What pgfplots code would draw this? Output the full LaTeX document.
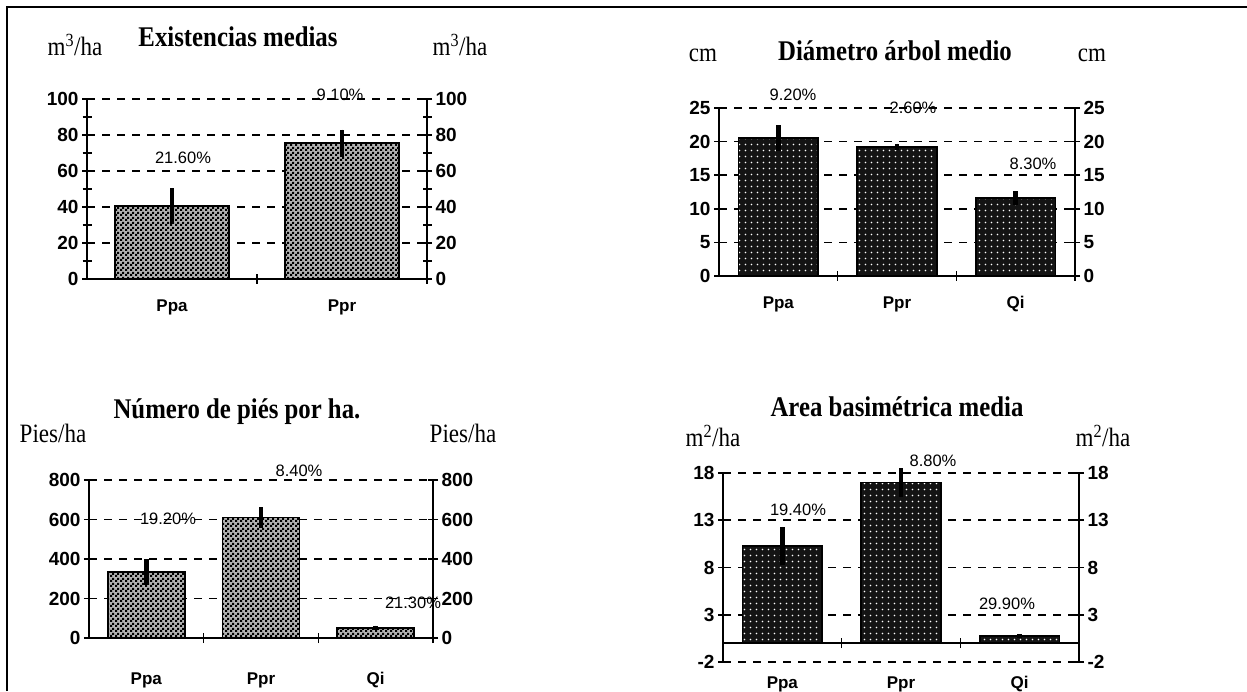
\documentclass[border=0pt]{standalone}
\usepackage{fontspec}
\setmainfont{Liberation Serif}
\newfontfamily\condserif[FakeStretch=0.87]{Liberation Serif}
\newfontfamily\arialf{Liberation Sans}
\usepackage{pgfplots}
\pgfplotsset{compat=1.18}
\usetikzlibrary{patterns}

% fine black/white checkerboard and white dots on black
\pgfdeclarepatternformonly{checker}{\pgfpointorigin}{\pgfqpoint{5pt}{5pt}}{\pgfqpoint{5pt}{5pt}}{%
  \pgfpathrectangle{\pgfpointorigin}{\pgfqpoint{2.5pt}{2.5pt}}%
  \pgfpathrectangle{\pgfqpoint{2.5pt}{2.5pt}}{\pgfqpoint{2.5pt}{2.5pt}}%
  \pgfusepath{fill}}
\pgfdeclarepatternformonly{wdots}{\pgfpointorigin}{\pgfqpoint{5.5pt}{5.5pt}}{\pgfqpoint{5.5pt}{5.5pt}}{%
  \pgfpathcircle{\pgfqpoint{2.75pt}{2.75pt}}{0.9pt}%
  \pgfusepath{fill}}

\newcommand{\ttl}{\condserif\bfseries\fontsize{28.5}{30}\selectfont}
\newcommand{\unt}{\condserif\fontsize{26.5}{28}\selectfont}
\newcommand{\pct}{\arialf\fontsize{16.5}{18}\selectfont}
\newcommand{\tck}{\arialf\bfseries\fontsize{19}{21}\selectfont}
\newcommand{\cat}{\arialf\bfseries\fontsize{17}{19}\selectfont}

\pgfplotsset{
  panel/.style={
    scale only axis, anchor=south west, clip=false,
    axis y line*=left, axis x line*=middle,
    tick align=center,
    axis line style={line width=1.8pt, black},
    major tick style={line width=1.6pt, black},
    minor tick style={line width=1.4pt, black},
    major tick length=10pt, minor tick length=9pt,
    ymajorgrids,
    major grid style={line width=1.6pt, black, dash pattern=on 8pt off 7pt},
    xticklabels={},
    tick label style={font=\tck},
    extra x tick style={major tick length=0pt, grid=none,
      tick label style={font=\cat, yshift=-17pt}},
  },
  rpanel/.style={
    scale only axis, anchor=south west,
    axis y line*=right, axis x line=none,
    tick align=center,
    axis line style={line width=1.8pt, black},
    major tick style={line width=1.6pt, black},
    minor tick style={line width=1.4pt, black},
    major tick length=10pt, minor tick length=9pt,
    tick label style={font=\tck},
  },
  errs/.style={error bars/.cd, y dir=both, y explicit, error mark=none,
    error bar style={line width=4.5pt, black}},
  hatchbar/.style={ybar, bar width=0.67, draw=black, line width=1.8pt,
    fill=black!30, postaction={pattern=checker}},
  dotbar/.style={ybar, bar width=0.67, draw=black, line width=1.8pt,
    fill=black!92, postaction={pattern=wdots, pattern color=white}},
}

\begin{document}
\begin{tikzpicture}
\path[use as bounding box] (0pt,0pt) rectangle (1247pt,691pt);
\draw[line width=2pt] (7pt,0pt) -- (7pt,684pt) -- (1247pt,684pt);

% ---------- Existencias medias ----------
\begin{axis}[panel, at={(87pt,412pt)}, width=340pt, height=180pt,
  xmin=0, xmax=2, ymin=0, ymax=100,
  xtick={0,1,2},
  ytick={0,20,40,60,80,100}, yticklabels={0,20,40,60,80,100},
  minor ytick={10,30,50,70,90},
  extra x ticks={0.5,1.5}, extra x tick labels={Ppa,Ppr}]
\addplot[hatchbar, errs] coordinates {(0.5,40.5) +- (0,10) (1.5,75.5) +- (0,7.5)};
\end{axis}
\begin{axis}[rpanel, at={(87pt,412pt)}, width=340pt, height=180pt,
  xmin=0, xmax=2, ymin=0, ymax=100,
  ytick={0,20,40,60,80,100}, yticklabels={0,20,40,60,80,100},
  minor ytick={10,30,50,70,90}]
\end{axis}
\node[font=\ttl] at (238pt,654pt) {Existencias medias};
\node[font=\unt] at (75pt,646pt) {m\textsuperscript{3}/ha};
\node[font=\unt] at (460pt,646pt) {m\textsuperscript{3}/ha};
\node[font=\pct] at (183pt,533pt) {21.60\%};
\node[font=\pct] at (340pt,596pt) {9.10\%};

% ---------- Diametro arbol medio ----------
\begin{axis}[panel, at={(719pt,415pt)}, width=356pt, height=168pt,
  xmin=0, xmax=3, ymin=0, ymax=25,
  xtick={0,1,2,3},
  ytick={0,5,10,15,20,25}, yticklabels={0,5,10,15,20,25},
  extra x ticks={0.5,1.5,2.5}, extra x tick labels={Ppa,Ppr,Qi}]
\addplot[dotbar, errs] coordinates {(0.5,20.5) +- (0,1.9) (1.5,19.2) +- (0,0.5) (2.5,11.6) +- (0,1.0)};
\end{axis}
\begin{axis}[rpanel, at={(719pt,415pt)}, width=356pt, height=168pt,
  xmin=0, xmax=3, ymin=0, ymax=25,
  ytick={0,5,10,15,20,25}, yticklabels={0,5,10,15,20,25}]
\end{axis}
\node[font=\ttl] at (895pt,640pt) {Diámetro árbol medio};
\node[font=\unt] at (703pt,636pt) {cm};
\node[font=\unt] at (1092pt,636pt) {cm};
\node[font=\pct] at (793pt,596pt) {9.20\%};
\node[font=\pct] at (913pt,583pt) {2.60\%};
\node[font=\pct] at (1033pt,527pt) {8.30\%};

% ---------- Numero de pies por ha ----------
\begin{axis}[panel, at={(89pt,53pt)}, width=344pt, height=158pt,
  xmin=0, xmax=3, ymin=0, ymax=800,
  xtick={0,1,2,3},
  ytick={0,200,400,600,800}, yticklabels={0,200,400,600,800},
  extra x ticks={0.5,1.5,2.5}, extra x tick labels={Ppa,Ppr,Qi},
  extra x tick style={tick label style={yshift=-14pt}}]
\addplot[hatchbar, errs] coordinates {(0.5,334) +- (0,64) (1.5,610) +- (0,53) (2.5,52) +- (0,11)};
\end{axis}
\begin{axis}[rpanel, at={(89pt,53pt)}, width=344pt, height=158pt,
  xmin=0, xmax=3, ymin=0, ymax=800,
  ytick={0,200,400,600,800}, yticklabels={0,200,400,600,800}]
\end{axis}
\node[font=\ttl] at (237pt,279pt) {Número de piés por ha.};
\node[font=\unt] at (53pt,258pt) {Pies/ha};
\node[font=\unt] at (463pt,258pt) {Pies/ha};
\node[font=\pct] at (168pt,172pt) {19.20\%};
\node[font=\pct] at (299pt,220pt) {8.40\%};
\node[font=\pct] at (413pt,88pt) {21.30\%};

% ---------- Area basimetrica media ----------
\begin{axis}[panel, at={(723pt,29pt)}, width=356pt, height=189pt,
  xmin=0, xmax=3, ymin=-2, ymax=18,
  xtick={0,1,2,3},
  ytick={-2,3,8,13,18}, yticklabels={-2,3,8,13,18},
  extra x ticks={0.5,1.5,2.5}, extra x tick labels={Ppa,Ppr,Qi},
  extra x tick style={tick label style={yshift=-13pt}}]
\addplot[dotbar, errs] coordinates {(0.5,10.3) +- (0,2.0) (1.5,17.0) +- (0,1.5) (2.5,0.74) +- (0,0.2)};
\end{axis}
\begin{axis}[rpanel, at={(723pt,29pt)}, width=356pt, height=189pt,
  xmin=0, xmax=3, ymin=-2, ymax=18,
  ytick={-2,3,8,13,18}, yticklabels={-2,3,8,13,18}]
\end{axis}
\node[font=\ttl] at (897pt,284pt) {Area basimétrica media};
\node[font=\unt] at (713pt,255pt) {m\textsuperscript{2}/ha};
\node[font=\unt] at (1103pt,255pt) {m\textsuperscript{2}/ha};
\node[font=\pct] at (798pt,181pt) {19.40\%};
\node[font=\pct] at (933pt,230pt) {8.80\%};
\node[font=\pct] at (1007pt,87pt) {29.90\%};
\end{tikzpicture}
\end{document}
